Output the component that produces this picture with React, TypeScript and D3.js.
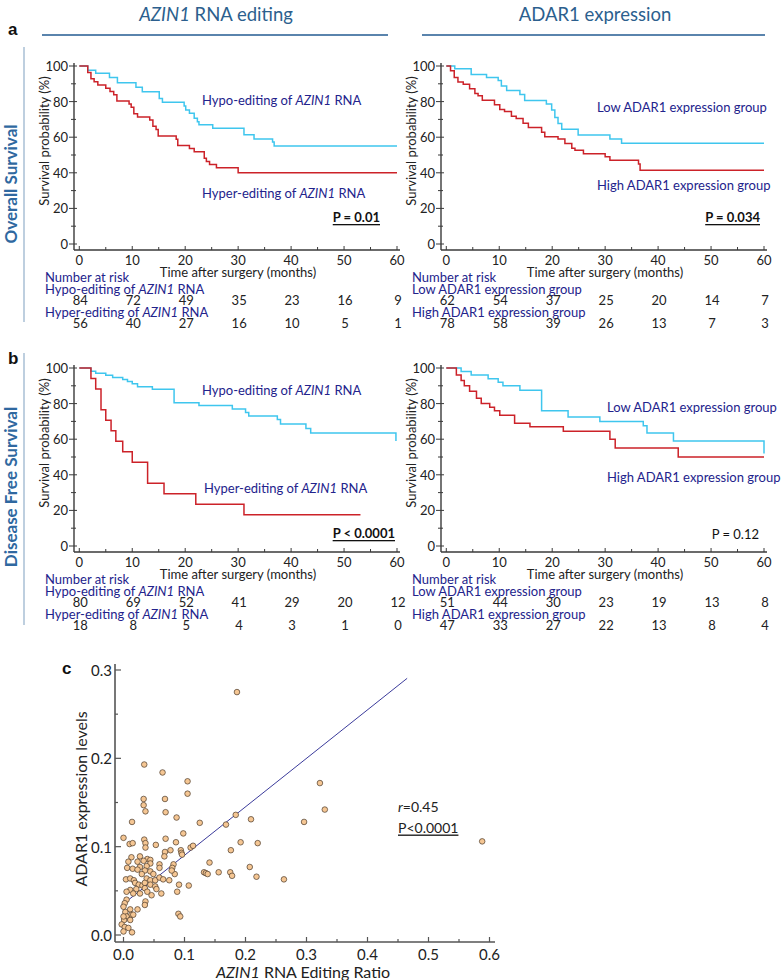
import React from 'react';
import * as d3 from 'd3';

type Step = [number, number];

// ---------- Kaplan-Meier data (time in months, survival %) ----------
const monthTicks = [0, 10, 20, 30, 40, 50, 60];
const monthMinorTicks = [5, 15, 25, 35, 45, 55];
const survTicks = [0, 20, 40, 60, 80, 100];
const survMinorTicks = [10, 30, 50, 70, 90];

const osHypo: Step[] = [[0, 100], [1.6, 97.6], [3.1, 95.9], [5.7, 93.6], [7.2, 90.6], [10.7, 88.0], [11.9, 85.6], [15.1, 81.8], [15.7, 79.6], [19.8, 77.5], [20.1, 75.3], [20.8, 73.4], [21.7, 70.6], [22.3, 68.7], [22.6, 67.0], [25.2, 65.0], [31.1, 61.4], [33.0, 59.0], [36.5, 57.3], [36.8, 55.0]];
const osHyper: Step[] = [[0, 100], [1.6, 96.4], [2.2, 92.9], [2.8, 91.1], [3.5, 89.3], [5.0, 87.5], [5.8, 85.7], [6.5, 83.9], [7.1, 80.4], [9.4, 78.6], [9.8, 76.8], [10.3, 73.2], [11.0, 71.4], [13.3, 69.6], [13.9, 66.1], [14.5, 64.3], [14.9, 60.7], [18.3, 58.9], [18.6, 55.4], [20.8, 53.6], [21.7, 51.8], [23.6, 48.2], [24.0, 46.4], [24.6, 44.6], [25.9, 42.9], [30.0, 40.0]];
const osLow: Step[] = [[0, 100], [1.6, 98.4], [4.7, 95.2], [7.6, 93.5], [9.8, 91.9], [10.4, 88.7], [11.4, 86.3], [13.9, 84.0], [14.8, 80.6], [18.9, 78.6], [19.9, 75.3], [20.5, 71.0], [21.1, 67.7], [21.8, 64.5], [24.9, 61.3], [30.9, 59.0], [33.1, 56.6]];
const osHigh: Step[] = [[0, 100], [0.8, 97.4], [1.5, 93.6], [2.2, 91.0], [3.2, 89.7], [4.4, 87.2], [5.4, 84.6], [6.0, 83.3], [6.8, 80.8], [9.1, 78.2], [10.1, 75.6], [11.0, 74.4], [12.3, 71.8], [13.2, 70.5], [14.5, 67.9], [15.5, 65.4], [18.0, 62.8], [18.6, 60.3], [21.1, 59.0], [22.4, 56.4], [23.7, 53.8], [24.3, 52.6], [25.9, 50.7], [30.0, 49.0], [30.9, 47.0], [36.3, 45.0], [36.6, 41.5]];
const dfsHypo: Step[] = [[0, 100], [2.2, 98.2], [3.1, 97.0], [5.0, 95.9], [6.3, 94.7], [8.2, 93.6], [9.1, 92.4], [10.0, 91.2], [11.0, 89.5], [13.8, 88.0], [17.9, 80.5], [22.6, 79.0], [28.9, 77.0], [31.4, 75.0], [32.0, 73.0], [37.4, 71.0], [38.0, 68.5], [42.8, 66.0], [43.7, 63.5], [59.8, 59.0]];
const dfsHyper: Step[] = [[0, 100], [2.2, 94.1], [3.1, 88.2], [4.1, 76.5], [5.0, 70.6], [6.0, 64.7], [6.9, 58.8], [8.2, 52.9], [10.0, 47.1], [12.9, 35.3], [16.0, 29.4], [22.0, 23.5], [31.1, 17.6]];
const dfsLow: Step[] = [[0, 100], [2.8, 98.0], [4.7, 96.0], [7.9, 94.0], [9.8, 92.0], [10.7, 90.0], [13.9, 87.5], [18.0, 76.0], [23.0, 72.5], [29.0, 70.0], [37.2, 67.5], [37.9, 63.5], [42.9, 59.0], [60.0, 52.0]];
const dfsHigh: Step[] = [[0, 100], [1.9, 96.0], [2.8, 93.0], [3.4, 90.0], [4.4, 87.0], [5.7, 83.0], [6.6, 80.0], [8.2, 78.0], [9.1, 76.0], [10.1, 73.5], [12.9, 69.0], [15.8, 67.0], [22.1, 64.5], [30.9, 60.0], [31.9, 55.0], [43.8, 50.0]];

// Number at risk
const riskTimes = [0, 10, 20, 30, 40, 50, 60];
const osRiskHypo = [84, 72, 49, 35, 23, 16, 9];
const osRiskHyper = [56, 40, 27, 16, 10, 5, 1];
const osRiskLow = [62, 54, 37, 25, 20, 14, 7];
const osRiskHigh = [78, 58, 39, 26, 13, 7, 3];
const dfsRiskHypo = [80, 69, 52, 41, 29, 20, 12];
const dfsRiskHyper = [18, 8, 5, 4, 3, 1, 0];
const dfsRiskLow = [51, 44, 30, 23, 19, 13, 8];
const dfsRiskHigh = [47, 33, 27, 22, 13, 8, 4];

// ---------- Scatter data: [AZIN1 editing ratio, ADAR1 expression] ----------
const scatterPoints: [number, number][] = [
  [0.186, 0.275],
  [0.034, 0.193], [0.064, 0.184], [0.105, 0.174], [0.105, 0.160],
  [0.322, 0.172], [0.330, 0.142], [0.296, 0.128],
  [0.033, 0.154], [0.068, 0.154], [0.033, 0.147], [0.036, 0.140], [0.069, 0.139],
  [0.087, 0.133], [0.125, 0.127], [0.184, 0.136], [0.168, 0.125], [0.209, 0.131],
  [0.014, 0.128], [0.000, 0.110], [0.098, 0.115],
  [0.010, 0.103], [0.015, 0.104], [0.034, 0.108], [0.036, 0.104], [0.053, 0.102], [0.069, 0.109], [0.086, 0.105],
  [0.036, 0.099], [0.094, 0.096], [0.095, 0.093], [0.096, 0.091], [0.110, 0.099], [0.114, 0.101],
  [0.176, 0.096], [0.192, 0.105], [0.220, 0.104],
  [0.077, 0.096], [0.068, 0.094], [0.067, 0.089],
  [0.013, 0.088], [0.027, 0.089], [0.039, 0.086], [0.044, 0.085],
  [0.141, 0.082], [0.082, 0.080], [0.080, 0.076], [0.059, 0.080], [0.059, 0.076],
  [0.156, 0.071], [0.132, 0.071], [0.135, 0.070], [0.138, 0.069], [0.175, 0.071], [0.178, 0.067],
  [0.207, 0.077], [0.218, 0.066], [0.263, 0.063],
  [0.107, 0.056], [0.091, 0.057], [0.088, 0.049], [0.090, 0.024], [0.093, 0.021],
  [0.023, 0.029], [0.014, 0.003],
  [0.008, 0.083], [0.023, 0.083], [0.033, 0.084], [0.044, 0.081], [0.038, 0.078], [0.027, 0.077],
  [0.006, 0.076], [0.015, 0.075], [0.023, 0.074], [0.035, 0.073], [0.044, 0.072], [0.049, 0.069], [0.030, 0.069],
  [0.004, 0.063], [0.011, 0.064], [0.017, 0.062], [0.038, 0.064], [0.044, 0.062], [0.052, 0.062], [0.059, 0.065], [0.065, 0.063], [0.075, 0.062],
  [0.019, 0.059], [0.025, 0.057], [0.031, 0.056], [0.035, 0.059], [0.044, 0.057], [0.052, 0.055], [0.054, 0.052], [0.035, 0.053],
  [0.011, 0.051], [0.005, 0.049], [0.021, 0.052], [0.027, 0.047], [0.039, 0.049], [0.046, 0.045], [0.062, 0.047], [0.016, 0.047],
  [0.036, 0.038], [0.035, 0.034], [0.005, 0.040], [0.002, 0.036],
  [0.000, 0.032], [0.011, 0.029], [0.003, 0.026], [0.013, 0.023], [0.005, 0.021], [0.001, 0.017],
  [-0.003, 0.012], [0.002, 0.009], [0.008, 0.008], [0.000, 0.004], [0.016, 0.023], [0.000, 0.021], [0.011, 0.017],
  [0.084, 0.069], [0.079, 0.073], [0.588, 0.106],
];
const regIntercept = 0.0353;
const regSlope = 0.549;
const regRange = [-0.005, 0.465];
const xTicksC = [0, 0.1, 0.2, 0.3, 0.4, 0.5, 0.6];
const yTicksC = [0, 0.1, 0.2, 0.3];

// ---------- styling ----------
const FONT = 'Lato, "Open Sans", sans-serif';
const NAVY = '#23238c';
const CYAN = '#3fc6ee';
const RED = '#cc2229';
const AXIS = '#3a3a3a';
const HEAD = '#2c5f8e';

const Az = ({ children }: { children?: any }) => <tspan fontStyle="italic">{children}</tspan>;

interface CurveDef { data: Step[]; end: number; color: string }
interface PanelProps {
  dx: number; dy: number;
  curves: CurveDef[];
  g1: any; g1x: number; g1y: number;
  g2: any; g2x: number; g2y: number;
  pText: string; pBold: boolean; pX: number; pY: number;
  risk1Name: any; risk2Name: any; risk1: number[]; risk2: number[];
}

function KMPanel(p: PanelProps) {
  const x = d3.scaleLinear().domain([-1, 60]).range([74, 397]);
  const y = d3.scaleLinear().domain([0, 100]).range([244, 66]);
  const line = d3.line<Step>().x(d => x(d[0])).y(d => y(d[1])).curve(d3.curveStepAfter);
  const axisY = 250;
  const rowY = [277, 288.5, 300, 311.5, 323];
  return (
    <g transform={`translate(${p.dx},${p.dy})`} fontFamily={FONT}>
      {/* axes */}
      <line x1={x(-1)} x2={x(-1)} y1={63} y2={axisY} stroke={AXIS} strokeWidth={1.4} />
      <line x1={x(-1)} x2={x(60) + 3} y1={axisY} y2={axisY} stroke={AXIS} strokeWidth={1.4} />
      {survTicks.map(t => (
        <g key={'yt' + t}>
          <line x1={x(-1) - 5} x2={x(-1) + 3} y1={y(t)} y2={y(t)} stroke={AXIS} strokeWidth={1} />
          <text x={x(-1) - 6} y={y(t)} textAnchor="end" dominantBaseline="central" fontSize={13} fill="#222">{t}</text>
        </g>
      ))}
      {survMinorTicks.map(t => (
        <line key={'ym' + t} x1={x(-1) - 3} x2={x(-1) + 2} y1={y(t)} y2={y(t)} stroke={AXIS} strokeWidth={1} />
      ))}
      {monthTicks.map(t => (
        <g key={'xt' + t}>
          <line x1={x(t)} x2={x(t)} y1={axisY} y2={axisY - 4} stroke={AXIS} strokeWidth={1} />
          <text x={x(t)} y={axisY + 10} textAnchor="middle" dominantBaseline="central" fontSize={13} fill="#222">{t}</text>
        </g>
      ))}
      {monthMinorTicks.map(t => (
        <line key={'xm' + t} x1={x(t)} x2={x(t)} y1={axisY} y2={axisY - 3} stroke={AXIS} strokeWidth={1} />
      ))}
      <text transform={`translate(44,${(y(0) + y(100)) / 2 - 14}) rotate(-90)`} textAnchor="middle" dominantBaseline="central" fontSize={13} fill="#222">Survival probability (%)</text>
      <text x={238} y={271.5} textAnchor="middle" dominantBaseline="central" fontSize={13} fill="#222">Time after surgery (months)</text>
      {/* curves */}
      {p.curves.map((c, i) => {
        const pts: Step[] = [...c.data, [c.end, c.data[c.data.length - 1][1]]];
        return <path key={i} d={line(pts) || ''} fill="none" stroke={c.color} strokeWidth={1.5} />;
      })}
      {/* group labels */}
      <text x={p.g1x} y={p.g1y} dominantBaseline="central" fontSize={13} fill={NAVY}>{p.g1}</text>
      <text x={p.g2x} y={p.g2y} dominantBaseline="central" fontSize={13} fill={NAVY}>{p.g2}</text>
      <text x={p.pX} y={p.pY} textAnchor="end" dominantBaseline="central" fontSize={13} fontWeight={p.pBold ? 'bold' : 'normal'} fill="#111" style={p.pBold ? { textDecoration: 'underline' } : undefined}>{p.pText}</text>
      {/* risk table */}
      <text x={45} y={rowY[0]} dominantBaseline="central" fontSize={13} fill={NAVY}>Number at risk</text>
      <text x={45} y={rowY[1]} dominantBaseline="central" fontSize={13} fill={NAVY}>{p.risk1Name}</text>
      {riskTimes.map((t, i) => (
        <text key={'r1' + t} x={x(t) + 1} y={rowY[2]} textAnchor="middle" dominantBaseline="central" fontSize={13} fill="#222">{p.risk1[i]}</text>
      ))}
      <text x={45} y={rowY[3]} dominantBaseline="central" fontSize={13} fill={NAVY}>{p.risk2Name}</text>
      {riskTimes.map((t, i) => (
        <text key={'r2' + t} x={x(t) + 1} y={rowY[4]} textAnchor="middle" dominantBaseline="central" fontSize={13} fill="#222">{p.risk2[i]}</text>
      ))}
    </g>
  );
}

function Scatter() {
  const x = d3.scaleLinear().domain([0, 0.6]).range([123.5, 489.5]);
  const y = d3.scaleLinear().domain([0, 0.3]).range([935, 670]);
  const axX = 115, axY = 942;
  const minorX = d3.range(0.05, 0.6, 0.1);
  const minorY = d3.range(0.05, 0.3, 0.1);
  return (
    <g fontFamily={FONT}>
      <line x1={axX} x2={axX} y1={664} y2={axY} stroke="#555" strokeWidth={1.6} />
      <line x1={axX} x2={495} y1={axY} y2={axY} stroke="#555" strokeWidth={1.6} />
      {yTicksC.map(t => (
        <g key={'cy' + t}>
          <line x1={axX} x2={axX + 6} y1={y(t)} y2={y(t)} stroke="#555" strokeWidth={1.2} />
          <text x={axX - 3} y={y(t)} textAnchor="end" dominantBaseline="central" fontSize={15} fill="#222">{t.toFixed(1)}</text>
        </g>
      ))}
      {minorY.map(t => <line key={'cym' + t} x1={axX} x2={axX + 3} y1={y(t)} y2={y(t)} stroke="#555" strokeWidth={1.2} />)}
      {xTicksC.map(t => (
        <g key={'cx' + t}>
          <line x1={x(t)} x2={x(t)} y1={axY} y2={axY - 5} stroke="#555" strokeWidth={1.2} />
          <text x={x(t)} y={axY + 12} textAnchor="middle" dominantBaseline="central" fontSize={15} fill="#222">{t.toFixed(1)}</text>
        </g>
      ))}
      {minorX.map(t => <line key={'cxm' + t} x1={x(t)} x2={x(t)} y1={axY} y2={axY - 3} stroke="#555" strokeWidth={1.2} />)}
      <text transform={`translate(80,799) rotate(-90)`} textAnchor="middle" dominantBaseline="central" fontSize={16} fill="#222">ADAR1 expression levels</text>
      <text x={303} y={971} textAnchor="middle" dominantBaseline="central" fontSize={16} fill="#222"><Az>AZIN1</Az> RNA Editing Ratio</text>
      <line x1={x(regRange[0])} y1={y(regIntercept + regSlope * regRange[0])} x2={x(regRange[1])} y2={y(regIntercept + regSlope * regRange[1])} stroke="#3b3b9b" strokeWidth={1} />
      {scatterPoints.map((d, i) => (
        <circle key={i} cx={x(d[0])} cy={y(d[1])} r={2.8} fill="#f5c693" stroke="#4a3a2a" strokeWidth={0.7} />
      ))}
      <text x={398} y={806} dominantBaseline="central" fontSize={14} fill="#222"><tspan fontStyle="italic">r</tspan>=0.45</text>
      <text x={398} y={827} dominantBaseline="central" fontSize={14} fill="#222" style={{ textDecoration: 'underline' }}>P&lt;0.0001</text>
    </g>
  );
}

export default function App() {
  const hypoName = <>Hypo-editing of <Az>AZIN1</Az> RNA</>;
  const hyperName = <>Hyper-editing of <Az>AZIN1</Az> RNA</>;
  return (
    <svg width={784} height={980} style={{ position: 'absolute', left: 0, top: 0, background: '#fff' }}>
      {/* headers */}
      <text x={216} y={14} textAnchor="middle" dominantBaseline="central" fontFamily={FONT} fontSize={18.5} fill={HEAD}><Az>AZIN1</Az> RNA editing</text>
      <text x={595} y={14} textAnchor="middle" dominantBaseline="central" fontFamily={FONT} fontSize={18.5} fill={HEAD}>ADAR1 expression</text>
      <line x1={42} x2={388} y1={35} y2={35} stroke="#5a84ad" strokeWidth={2} />
      <line x1={422} x2={765} y1={35} y2={35} stroke="#5a84ad" strokeWidth={2} />
      {/* panel letters */}
      <text x={8} y={29} dominantBaseline="central" fontFamily="Liberation Sans, Arial" fontWeight="bold" fontSize={17} fill="#111">a</text>
      <text x={8} y={358} dominantBaseline="central" fontFamily="Liberation Sans, Arial" fontWeight="bold" fontSize={17} fill="#111">b</text>
      <text x={62} y={668} dominantBaseline="central" fontFamily="Liberation Sans, Arial" fontWeight="bold" fontSize={17} fill="#111">c</text>
      {/* side bars */}
      <line x1={24} x2={24} y1={47} y2={322} stroke="#a9bfd5" strokeWidth={1.5} />
      <line x1={24} x2={24} y1={353} y2={625} stroke="#a9bfd5" strokeWidth={1.5} />
      <text transform="translate(10,184) rotate(-90)" textAnchor="middle" dominantBaseline="central" fontFamily={FONT} fontWeight="bold" fontSize={17} fill="#2f68a0">Overall Survival</text>
      <text transform="translate(10,487) rotate(-90)" textAnchor="middle" dominantBaseline="central" fontFamily={FONT} fontWeight="bold" fontSize={17} fill="#2f68a0">Disease Free Survival</text>

      <KMPanel dx={0} dy={0}
        curves={[{ data: osHypo, end: 60, color: CYAN }, { data: osHyper, end: 60, color: RED }]}
        g1={hypoName} g1x={202} g1y={100} g2={hyperName} g2x={202} g2y={193}
        pText="P = 0.01" pBold pX={380} pY={217}
        risk1Name={hypoName} risk2Name={hyperName} risk1={osRiskHypo} risk2={osRiskHyper} />
      <KMPanel dx={367} dy={0}
        curves={[{ data: osLow, end: 60, color: CYAN }, { data: osHigh, end: 60, color: RED }]}
        g1={'Low ADAR1 expression group'} g1x={230} g1y={107} g2={'High ADAR1 expression group'} g2x={230} g2y={185}
        pText="P = 0.034" pBold pX={393} pY={217}
        risk1Name={'Low ADAR1 expression group'} risk2Name={'High ADAR1 expression group'} risk1={osRiskLow} risk2={osRiskHigh} />
      <KMPanel dx={0} dy={302}
        curves={[{ data: dfsHypo, end: 59.8, color: CYAN }, { data: dfsHyper, end: 53.1, color: RED }]}
        g1={hypoName} g1x={202} g1y={88} g2={hyperName} g2x={204} g2y={186}
        pText="P < 0.0001" pBold pX={395} pY={231}
        risk1Name={hypoName} risk2Name={hyperName} risk1={dfsRiskHypo} risk2={dfsRiskHyper} />
      <KMPanel dx={367} dy={302}
        curves={[{ data: dfsLow, end: 60, color: CYAN }, { data: dfsHigh, end: 60, color: RED }]}
        g1={'Low ADAR1 expression group'} g1x={240} g1y={105} g2={'High ADAR1 expression group'} g2x={240} g2y={175}
        pText="P = 0.12" pBold={false} pX={392} pY={232}
        risk1Name={'Low ADAR1 expression group'} risk2Name={'High ADAR1 expression group'} risk1={dfsRiskLow} risk2={dfsRiskHigh} />
      <Scatter />
    </svg>
  );
}
